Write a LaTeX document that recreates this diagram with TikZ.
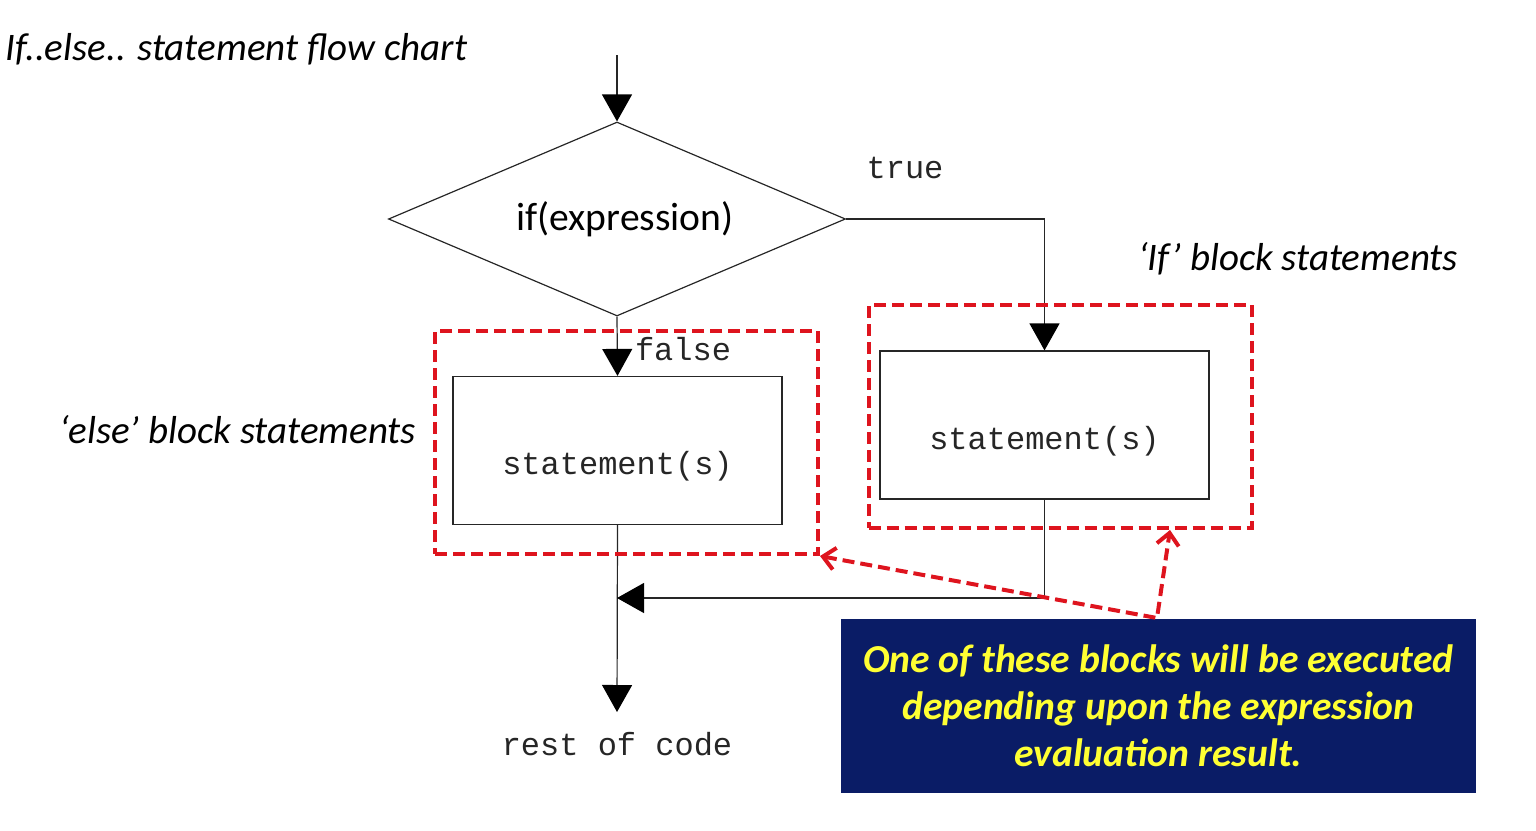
\documentclass[tikz,border=0pt]{standalone}
\usepackage{fontspec}
\setmainfont{Carlito}
\newfontfamily\codefont{Liberation Mono}
\usetikzlibrary{arrows.meta,shapes.geometric,positioning}
\definecolor{dashred}{RGB}{222,20,30}
\definecolor{notenavy}{RGB}{10,28,102}
\definecolor{noteyellow}{RGB}{255,255,51}
\tikzset{
	flow/.style={line width=0.6pt, color=black!85},
	flowarrow/.style={flow, -{Triangle[length=13.5pt,width=15pt,color=black]}},
	stmtbox/.style={draw=black!85, line width=0.6pt, minimum width=164.5pt, minimum height=74pt, inner sep=0pt},
	codetext/.style={font=\codefont\fontsize{16}{18}\selectfont, text=black!85, inner sep=0pt},
	blocktext/.style={font=\itshape\fontsize{19.5}{22}\selectfont, inner sep=0pt},
	blockframe/.style={draw=dashred, line width=2pt, dash pattern=on 6pt off 3pt, minimum width=191.5pt, minimum height=111.5pt, inner sep=0pt},
	pointer/.style={dashred, line width=2pt, dash pattern=on 6pt off 3pt, {Straight Barb[length=6pt,width=11pt]}-{Straight Barb[length=6pt,width=11pt]}},
}
\begin{document}
\begin{tikzpicture}[x=0.5pt, y=-0.5pt]
		%%%%% START %%%%%
		\useasboundingbox (0,0) rectangle (1536,830);
		
		\node[blocktext, anchor=west] (title) at (5,49) {If..else.. statement flow chart};
		
		% decision
		\coordinate (start) at (617,55);
		\node[draw=black!85, line width=0.6pt, diamond, aspect=2.36, minimum width=228.5pt, minimum height=97pt, inner sep=0pt, font=\fontsize{19.8}{22}\selectfont] (cond) at (617,219) {\hspace*{8pt}if(expression)};
		\draw[flowarrow] (start) -- (cond.north);
		
		% both blocks
		\node[stmtbox] (elsebox) at (617.5,450.5) {};
		\node[stmtbox] (ifbox) at (1044.5,425) {};
		\node[codetext] (elsetext) at ([yshift=-8pt]elsebox.center) {statement(s)};
		\node[codetext] (iftext) at ([yshift=-8pt]ifbox.center) {statement(s)};
		
		\draw[flowarrow] (cond.east) -| (ifbox.north);
		\node[codetext] (truelbl) at (905,168) {true};
		\draw[flowarrow] (cond.south) -- (elsebox.north);
		\node[codetext] (falselbl) at (683,349) {false};
		
		% join and exit
		\coordinate (merge) at (617,598);
		\node[codetext, anchor=north, inner sep=10pt] (rest) at (617,712) {rest of code};
		\draw[flowarrow] (elsebox.south) -- (rest.north);
		\draw[flowarrow] (ifbox.south) |- (merge);
		
		% red frames
		\node[blockframe] (elseframe) at (626.5,442.5) {};
		\node[blockframe] (ifframe) at (1060,416.5) {};
		\node[blocktext] (elselbl) at (238,430) {‘else’ block statements};
		\node[blocktext] (iflbl) at (1298,259) {‘If’ block statements};
		
		% note
		\node[fill=notenavy, minimum width=317.5pt, minimum height=87pt, align=center, inner sep=0pt, text=noteyellow, font=\bfseries\itshape\fontsize{19.8}{23.5}\selectfont] (note) at (1158.5,706) {One of these blocks will be executed\\ depending upon the expression\\ evaluation result.};
		\coordinate (bend) at (1157,618);
		\coordinate (ifmark) at (1170,530);
		\draw[pointer] (elseframe.south east) -- (bend) -- (ifmark);
		
		%%%%% END %%%%%
	\end{tikzpicture}
\end{document}
